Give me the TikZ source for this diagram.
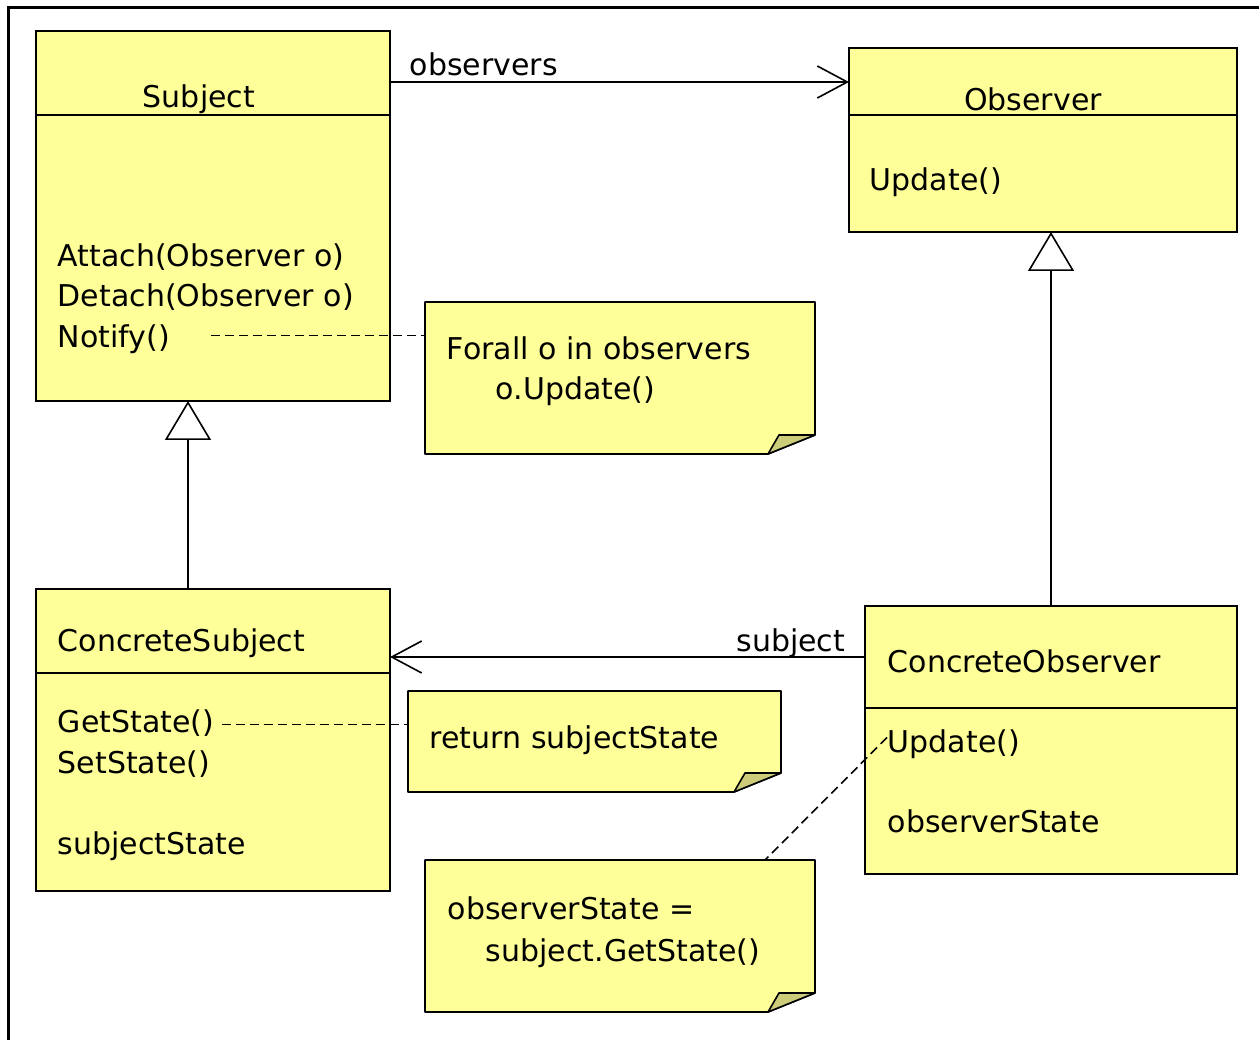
\documentclass[tikz,border=0pt]{standalone}
\usepackage{fontspec}
\setmainfont{DejaVu Sans}
\usetikzlibrary{arrows.meta,positioning}
\definecolor{umlyellow}{RGB}{255,255,153}
\definecolor{umlfold}{RGB}{204,204,122}

\begin{document}
\begin{tikzpicture}[x=1pt,y=-1pt,line width=1.6pt,
		font=\fontsize{30}{36}\selectfont,
		classbox/.style={draw,fill=umlyellow,anchor=north west,inner sep=0pt,outer sep=0pt},
		notebox/.style={anchor=north west,inner sep=0pt,outer sep=0pt},
		txt/.style={inner sep=0pt,text height=22pt,text depth=7pt,anchor=base west},
		dep/.style={dash pattern=on 9pt off 5pt,line width=1.6pt},
		assoc/.style={-{Straight Barb[length=30pt,width=32pt]}},
		inherit/.style={-{Triangle[open,fill=white,length=39pt,width=46pt]}}]
	\useasboundingbox (0,0) rectangle (1259,1040);
	\draw[line width=3pt] (8.5,1040) -- (8.5,7.5) -- (1259,7.5);
			\node[classbox,minimum width=354pt,minimum height=370pt] (subject) at (36,31) {};
			\node[txt,anchor=base] (subjectname) at (199,108) {Subject};
			\node[txt] (attach) at (57,267) {Attach(Observer o)};
			\node[txt] (detach) at (57,307) {Detach(Observer o)};
			\node[txt] (notify) at (57,348) {Notify()};
			\node[classbox,minimum width=388pt,minimum height=184pt] (observer) at (849,48) {};
			\node[txt,anchor=base] (observername) at (1033,111) {Observer};
			\node[txt] (update) at (869,191) {Update()};
				\draw[assoc] ([yshift=-51pt]subject.north east) -- ([yshift=-51pt]subject.north east -| observer.west)
					node[pos=0,txt,xshift=19pt,yshift=6pt] (obslabel) {observers};
			\node[notebox,minimum width=390pt,minimum height=152pt] (loopnote) at (425,302) {};
				\draw[dep] ([xshift=40pt,yshift=5pt]notify.east) -- ([yshift=5pt]notify.east -| loopnote.west);
			\node[classbox,minimum width=354pt,minimum height=302pt] (csubject) at (36,589) {};
			\node[txt] (csubjectname) at (57,651) {ConcreteSubject};
			\node[txt] (getstate) at (57,732) {GetState()};
			\node[txt] (setstate) at (57,773) {SetState()};
			\node[txt] (subjstate) at (57,854) {subjectState};
				\draw[inherit] ([xshift=-25pt]csubject.north) -- ([xshift=-25pt]subject.south);
			\node[notebox,minimum width=373pt,minimum height=101pt] (retnote) at (408,691) {};
				\draw[dep] ([xshift=7pt]getstate.east) -- (getstate.east -| retnote.west);
			\node[classbox,minimum width=372pt,minimum height=268pt] (cobserver) at (865,606) {};
			\node[txt] (cobservername) at (887,672) {ConcreteObserver};
			\node[txt] (cupdate) at (887,752) {Update()};
			\node[txt] (obsstate) at (887,832) {observerState};
				\draw[inherit] (cobserver.north) -- (cobserver.north |- observer.south);
				\draw[assoc] ([yshift=-51pt]cobserver.north west) -- ([yshift=-51pt]cobserver.north west -| csubject.east)
					node[pos=0,txt,anchor=base east,xshift=-19pt,yshift=6pt] (subjlabel) {subject};
			\node[notebox,minimum width=390pt,minimum height=152pt] (statenote) at (425,860) {};
				\draw[dep] ([yshift=7pt]cupdate.west) -- ([xshift=340pt]statenote.north west);
	% compartment lines
	\foreach \n/\d in {subject/84,observer/67,csubject/84,cobserver/102}
		\draw ([yshift=-\d pt]\n.north west) -- ([yshift=-\d pt]\n.north east);
	% notes with folded corner
	\foreach \n in {loopnote,retnote,statenote}{
		\draw[fill=umlyellow,line join=bevel] (\n.north west) -- (\n.north east) -- ([yshift=19pt]\n.south east)
			-- ([xshift=-47pt]\n.south east) -- (\n.south west) -- cycle;
		\draw[fill=umlfold,line join=bevel] ([xshift=-47pt]\n.south east) -- ([xshift=-36pt,yshift=19pt]\n.south east)
			-- ([yshift=19pt]\n.south east) -- cycle;
	}
			\node[txt] (forall) at (446,360) {Forall o in observers};
			\node[txt] (oupdate) at (495,400) {o.Update()};
			\node[txt] (retstate) at (429,748) {return subjectState};
			\node[txt] (assignstate) at (447,919) {observerState =};
			\node[txt] (getcall) at (485,961) {subject.GetState()};
\end{tikzpicture}
\end{document}
